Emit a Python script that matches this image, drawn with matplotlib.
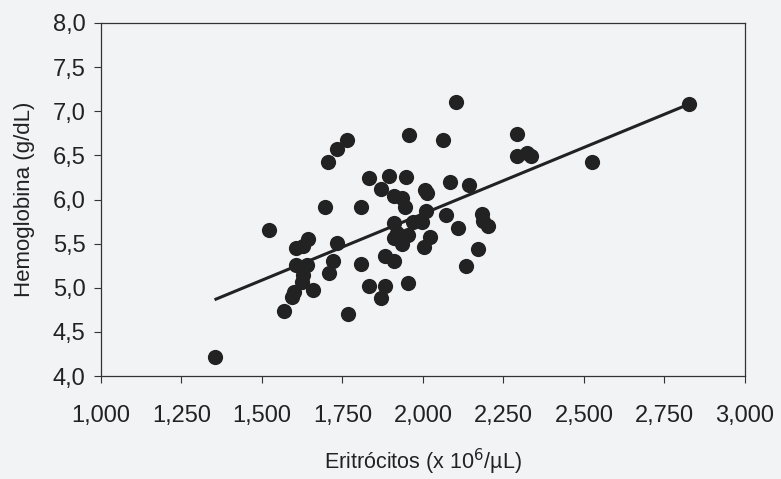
"""Hemoglobina vs eritrócitos scatter with linear trend."""

import matplotlib
matplotlib.use("Agg")
import matplotlib.pyplot as plt
from matplotlib.ticker import FuncFormatter

eritrocitos = [
    1354, 1522, 1569, 1594, 1600, 1606, 1626, 1644, 1606, 1641,
    1623, 1628, 1659, 1696, 1706, 1734, 1763, 1734, 1722, 1709,
    1768, 1806, 1809, 1833, 1833, 1871, 1895, 1946, 1958, 1910,
    1934, 1944, 1882, 1911, 1882, 1871, 1954, 1910, 1910, 1934,
    1954, 1970, 1996, 2006, 2014, 2009, 2022, 2003, 2061, 2102,
    2293, 2293, 2322, 2335, 2524, 2827, 2084, 2144, 2071, 2110,
    2182, 2187, 2201, 2170, 2133, 1920,
]
hemoglobina = [
    4.22, 5.65, 4.74, 4.90, 4.95, 5.45, 5.47, 5.55, 5.26, 5.26,
    5.07, 5.14, 4.97, 5.91, 6.43, 6.57, 6.67, 5.51, 5.30, 5.17,
    4.70, 5.91, 5.27, 6.24, 5.02, 6.12, 6.27, 6.26, 6.73, 6.04,
    6.02, 5.91, 5.36, 5.30, 5.02, 4.88, 5.05, 5.73, 5.56, 5.50,
    5.60, 5.74, 5.75, 6.11, 6.07, 5.87, 5.58, 5.46, 6.67, 7.11,
    6.74, 6.49, 6.53, 6.49, 6.43, 7.08, 6.20, 6.16, 5.82, 5.68,
    5.84, 5.76, 5.70, 5.44, 5.25, 5.62,
]

# trend line
trend_x = [1357, 2827]
trend_intercept = 2.83
trend_slope = 0.001504

plt.rcParams["font.family"] = ["Liberation Sans", "DejaVu Sans"]

bg = "#f2f3f5"
fig = plt.figure(figsize=(7.81, 4.79), dpi=100, facecolor=bg)
ax = fig.add_axes([0.1293, 0.215, 0.8246, 0.737], facecolor=bg)

ax.scatter(eritrocitos, hemoglobina, s=120, color="#222222", zorder=3, linewidths=0)
trend_y = [trend_intercept + trend_slope * x for x in trend_x]
ax.plot(trend_x, trend_y, color="#222222", lw=2.2, zorder=2)

ax.set_xlim(1000, 3000)
ax.set_ylim(4.0, 8.0)
ax.set_xticks(range(1000, 3001, 250))
ax.set_yticks([4.0 + 0.5 * i for i in range(9)])
ax.xaxis.set_major_formatter(FuncFormatter(lambda v, p: f"{int(v):,}"))
ax.yaxis.set_major_formatter(FuncFormatter(lambda v, p: f"{v:.1f}".replace(".", ",")))

ax.tick_params(axis="both", direction="out", length=5, width=0.8, colors="#333333",
               labelsize=17, labelcolor="#222222")
ax.tick_params(axis="x", pad=16)
ax.tick_params(axis="y", pad=6)
for sp in ax.spines.values():
    sp.set_color("#333333")
    sp.set_linewidth(0.9)

ax.set_xlabel("Eritrócitos (x 10$^6$/µL)", fontsize=15.5, color="#222222", labelpad=14)
ax.set_ylabel("Hemoglobina (g/dL)", fontsize=16, color="#222222", labelpad=13)

fig.savefig("out.png", dpi=100, facecolor=bg)
